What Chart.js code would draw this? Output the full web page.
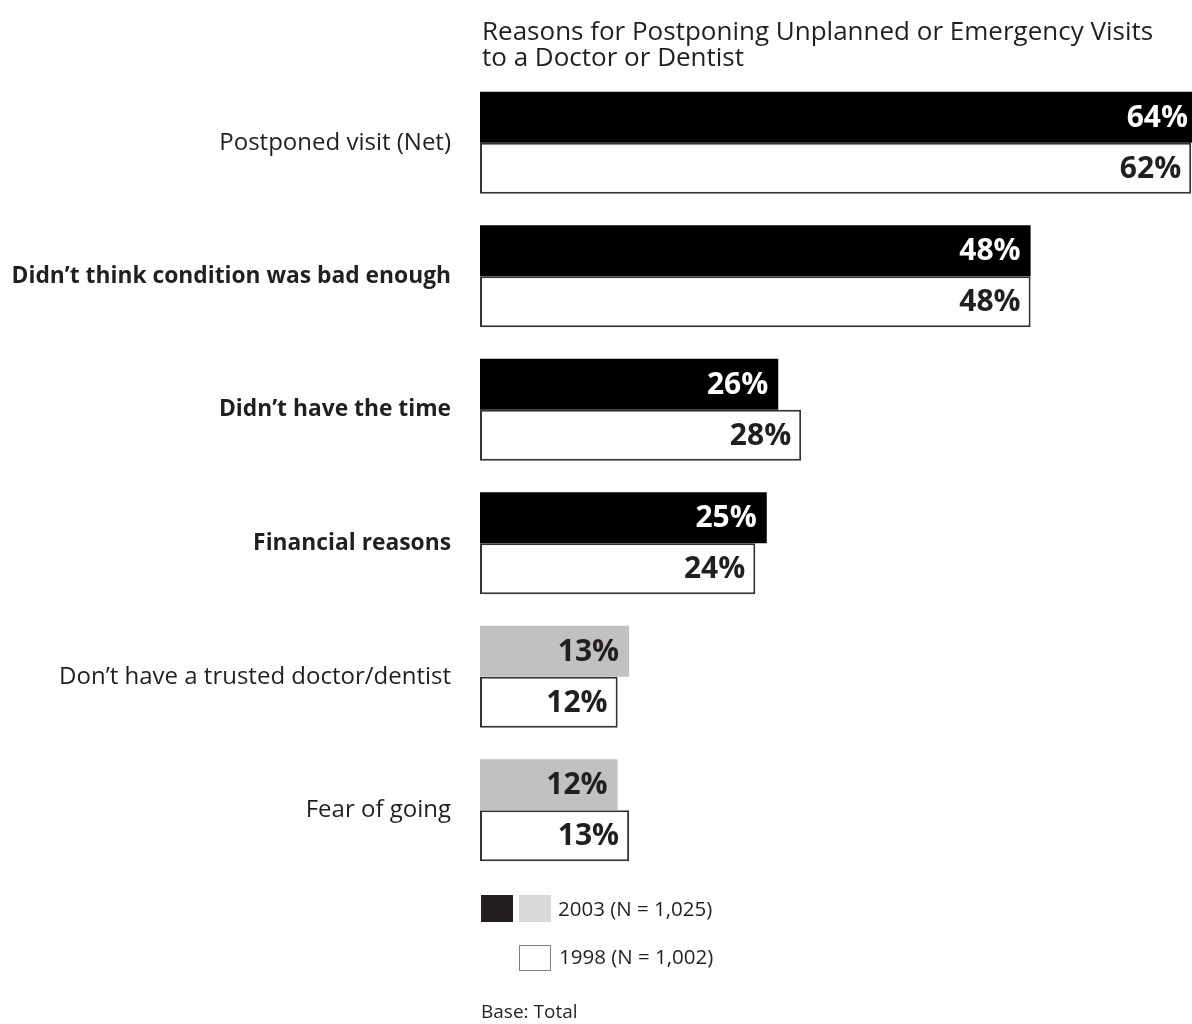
<!DOCTYPE html>
<html>
<head>
<meta charset="utf-8">
<script src="https://cdn.jsdelivr.net/npm/chart.js@4"></script>
<style>
  html, body { margin: 0; padding: 0; background: #fff; }
  #chart { display: block; }
</style>
</head>
<body>
<canvas id="chart" width="1192" height="1024"></canvas>
<script>
const categories = [
  "Postponed visit (Net)",
  "Didn\u2019t think condition was bad enough",
  "Didn\u2019t have the time",
  "Financial reasons",
  "Don\u2019t have a trusted doctor/dentist",
  "Fear of going"
];
const values2003 = [64, 48, 26, 25, 13, 12];
const values1998 = [62, 48, 28, 24, 12, 13];
const boldRows = [false, true, true, true, false, false];
const darkRows = [true, true, true, true, false, false];

const legend2003 = "2003 (N = 1,025)";
const legend1998 = "1998 (N = 1,002)";
const chartTitle = ["Reasons for Postponing Unplanned or Emergency Visits", "to a Doctor or Dentist"];
const baseNote = "Base: Total";

const FONT = "'Open Sans', 'Noto Sans', sans-serif";
const INK = "#231f20";

// percentage labels sit inside the right end of each bar
const valueLabels = {
  id: "valueLabels",
  afterDatasetsDraw(chart) {
    const ctx = chart.ctx;
    const area = chart.chartArea;
    ctx.save();
    ctx.font = `bold 30px ${FONT}`;
    ctx.textAlign = "right";
    ctx.textBaseline = "middle";
    chart.data.datasets.forEach((ds, di) => {
      chart.getDatasetMeta(di).data.forEach((bar, i) => {
        const x = Math.min(bar.x - 10, area.right - 4);
        ctx.fillStyle = (di === 0 && darkRows[i]) ? "#ffffff" : INK;
        ctx.fillText(ds.data[i] + "%", x, bar.y + 1);
      });
    });
    ctx.restore();
  }
};

// title, two-row legend and base note
const extras = {
  id: "extras",
  afterDraw(chart) {
    const ctx = chart.ctx;
    const left = chart.chartArea.left;
    ctx.save();
    ctx.fillStyle = INK;
    ctx.textAlign = "left";
    ctx.textBaseline = "alphabetic";
    ctx.font = `26px ${FONT}`;
    ctx.fillText(chartTitle[0], left + 2, 40);
    ctx.fillText(chartTitle[1], left + 2, 66);

    ctx.fillStyle = INK;
    ctx.fillRect(left + 1, 895, 32, 27);
    ctx.fillStyle = "#d9d9db";
    ctx.fillRect(left + 39, 895, 32, 27);
    ctx.fillStyle = "#ffffff";
    ctx.fillRect(left + 39, 945, 32, 26);
    ctx.strokeStyle = "#808080";
    ctx.lineWidth = 1;
    ctx.strokeRect(left + 39.5, 945.5, 31, 25);

    ctx.fillStyle = INK;
    ctx.font = `20.5px ${FONT}`;
    ctx.textBaseline = "middle";
    ctx.fillText(legend2003, left + 78, 910);
    ctx.fillText(legend1998, left + 79, 958);
    ctx.font = `19px ${FONT}`;
    ctx.fillText(baseNote, left + 1, 1013);
    ctx.restore();
  }
};

new Chart(document.getElementById("chart"), {
  type: "bar",
  data: {
    labels: categories,
    datasets: [
      {
        label: legend2003,
        data: values2003,
        backgroundColor: darkRows.map(d => d ? "#000000" : "#c1c1c1"),
        borderWidth: 0,
        categoryPercentage: 0.765,
        barPercentage: 1
      },
      {
        label: legend1998,
        data: values1998,
        backgroundColor: "#ffffff",
        borderColor: "#333333",
        borderWidth: 2,
        borderSkipped: false,
        categoryPercentage: 0.765,
        barPercentage: 1
      }
    ]
  },
  options: {
    indexAxis: "y",
    responsive: false,
    animation: false,
    layout: { padding: { top: 76, bottom: 147, left: 0, right: 0 } },
    plugins: {
      legend: { display: false },
      tooltip: { enabled: false }
    },
    scales: {
      x: { display: false, min: 0, max: 62.07 },
      y: {
        grid: { display: false, drawTicks: false },
        border: { display: false },
        afterFit(scale) { scale.width = 480; },
        ticks: {
          color: INK,
          padding: 29,
          font: (c) => ({ family: FONT, size: boldRows[c.index] ? 22.8 : 24, weight: boldRows[c.index] ? "bold" : "normal" })
        }
      }
    }
  },
  plugins: [valueLabels, extras]
});
</script>
</body>
</html>
